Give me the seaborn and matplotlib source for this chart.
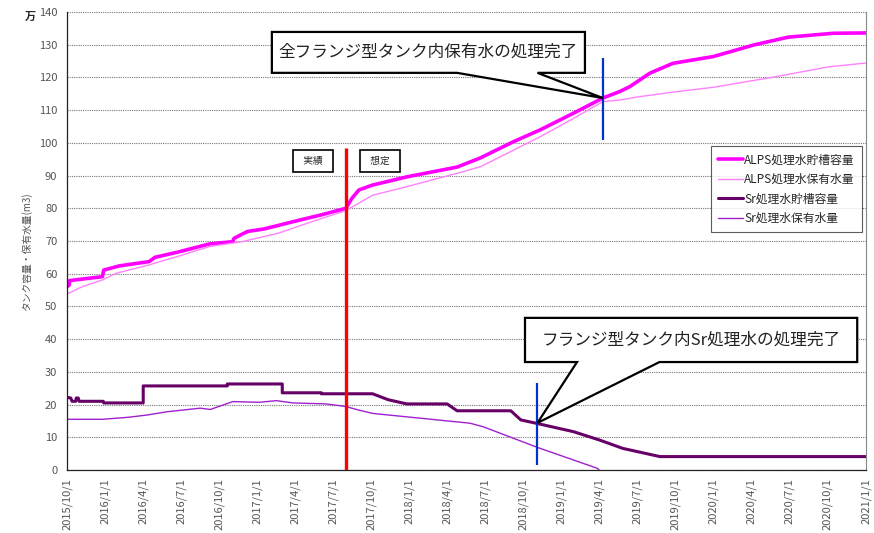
import matplotlib
matplotlib.use('Agg')
import matplotlib.pyplot as plt
import matplotlib.dates as mdates
from matplotlib.patches import Polygon
from matplotlib.ticker import MultipleLocator
import pandas as pd
import seaborn as sns

# ALPS処理水貯槽容量 (万m3)
alps_cap_dates = ['2015-10-01', '2015-10-06', '2015-10-07', '2015-12-25', '2015-12-28', '2016-02-04',
                  '2016-04-15', '2016-04-29', '2016-06-26', '2016-09-07', '2016-11-02', '2016-11-05',
                  '2016-12-07', '2017-01-17', '2017-03-27', '2017-06-03', '2017-08-01', '2017-08-15',
                  '2017-09-01', '2017-10-04', '2017-12-25', '2018-04-25', '2018-06-20', '2018-09-08',
                  '2018-11-11', '2019-01-30', '2019-04-10', '2019-05-21', '2019-06-14', '2019-08-01',
                  '2019-09-25', '2020-01-01', '2020-04-06', '2020-06-28', '2020-10-15', '2021-01-01']
alps_cap = [56.0, 56.5, 57.9, 59.1, 61.1, 62.4, 63.7, 65.0, 66.7, 69.1, 69.8, 70.8,
            72.9, 73.7, 75.9, 78.0, 80.0, 83.0, 85.6, 87.1, 89.6, 92.6, 95.4, 100.4,
            104.0, 109.1, 113.7, 115.7, 117.2, 121.3, 124.3, 126.4, 129.9, 132.3, 133.5, 133.6]

# ALPS処理水保有水量
alps_hold_dates = ['2015-10-01', '2015-11-06', '2015-12-25', '2016-01-26', '2016-04-15', '2016-06-26',
                   '2016-09-07', '2016-11-25', '2017-02-20', '2017-05-11', '2017-08-01', '2017-10-04',
                   '2017-12-25', '2018-04-25', '2018-06-20', '2018-09-08', '2018-11-11', '2019-01-30',
                   '2019-04-10', '2019-05-21', '2019-07-01', '2019-09-25', '2020-01-01', '2020-05-10',
                   '2020-07-01', '2020-10-01', '2021-01-01']
alps_hold = [53.8, 56.0, 58.1, 60.1, 62.7, 65.4, 68.3, 69.8, 72.4, 75.9, 79.3, 84.0,
             86.6, 90.7, 92.7, 97.8, 101.9, 107.5, 112.6, 113.1, 114.0, 115.5, 117.0, 119.8,
             121.0, 123.2, 124.4]

# Sr処理水貯槽容量
sr_cap_dates = ['2015-10-01', '2015-10-10', '2015-10-13', '2015-10-22', '2015-10-23', '2015-10-28',
                '2015-10-30', '2015-12-27', '2015-12-28', '2016-04-01', '2016-04-01', '2016-10-20',
                '2016-10-20', '2017-03-01', '2017-03-01', '2017-06-03', '2017-06-03', '2017-10-04',
                '2017-11-10', '2017-12-25', '2018-04-01', '2018-04-25', '2018-09-01', '2018-09-25',
                '2018-11-04', '2019-01-30', '2019-04-01', '2019-05-28', '2019-08-25', '2021-01-01']
sr_cap = [22.2, 22.0, 21.0, 21.0, 22.0, 22.0, 21.0, 21.0, 20.5, 20.5, 25.7, 25.7,
          26.3, 26.3, 23.6, 23.6, 23.3, 23.3, 21.5, 20.2, 20.2, 18.1, 18.1, 15.3,
          14.2, 11.7, 9.2, 6.6, 4.1, 4.1]

# Sr処理水保有水量
sr_hold_dates = ['2015-10-01', '2015-12-25', '2016-02-24', '2016-04-10', '2016-05-28', '2016-08-16',
                 '2016-09-09', '2016-11-02', '2017-01-05', '2017-02-15', '2017-03-27', '2017-06-14',
                 '2017-08-01', '2017-09-01', '2017-10-04', '2018-05-26', '2018-06-27', '2018-11-04',
                 '2019-03-28', '2019-04-01']
sr_hold = [15.5, 15.5, 16.1, 16.8, 17.8, 18.9, 18.5, 20.9, 20.7, 21.2, 20.5, 20.2,
           19.4, 18.3, 17.3, 14.3, 13.2, 6.9, 0.5, 0.0]

series_labels = ['ALPS処理水貯槽容量', 'ALPS処理水保有水量', 'Sr処理水貯槽容量', 'Sr処理水保有水量']
series_colors = ['#FF00FF', '#FF80FF', '#660066', '#A020D0']
series_widths = [2.6, 1.0, 2.2, 1.0]

# markers on the timeline
actual_end = '2017-08-01'          # 実績 / 想定 boundary
actual_end_top = 98.4
alps_done = '2019-04-10'
alps_done_y = 113.7
sr_done = '2018-11-04'
sr_done_y = 14.4

sns.set_style('white')
plt.rcParams['font.family'] = ['Noto Sans CJK JP', 'DejaVu Sans']

fig = plt.figure(figsize=(8.74, 5.33), dpi=100)
ax = fig.add_axes([0.0767, 0.1182, 0.9141, 0.8593])

all_series = [(alps_cap_dates, alps_cap), (alps_hold_dates, alps_hold),
              (sr_cap_dates, sr_cap), (sr_hold_dates, sr_hold)]
for (d, v), lab, col, lw in zip(all_series, series_labels, series_colors, series_widths):
    df = pd.DataFrame({'date': pd.to_datetime(d), 'value': v})
    sns.lineplot(data=df, x='date', y='value', ax=ax, color=col, linewidth=lw,
                 label=lab, estimator=None, sort=False)

ts = pd.Timestamp
ax.vlines(ts(actual_end), 0, actual_end_top, color='#FF0000', linewidth=2.4, zorder=5)
ax.vlines(ts(alps_done), 101, 126, color='#0033CC', linewidth=1.6, zorder=5)
ax.vlines(ts(sr_done), 1.5, 26.6, color='#0033CC', linewidth=1.6, zorder=5)

# axes
ax.set_xlim(ts('2015-10-01'), ts('2021-01-01'))
ax.set_ylim(0, 140)
ax.yaxis.set_major_locator(MultipleLocator(10))
ax.yaxis.set_minor_locator(MultipleLocator(2))
xticks = pd.date_range('2015-10-01', '2021-01-01', freq='QS')
ax.set_xticks(xticks)
ax.set_xticklabels([f'{t.year}/{t.month}/1' for t in xticks], rotation=90)
ax.tick_params(axis='x', direction='in', length=3, labelsize=8, labelcolor='#555555', pad=6)
ax.tick_params(axis='y', which='major', direction='in', length=4, labelsize=8,
               labelcolor='#555555', pad=7)
ax.tick_params(axis='y', which='minor', direction='in', length=2)
ax.grid(axis='y', which='major', color='#777777', linestyle=(0, (1, 1)), linewidth=0.8)
ax.set_xlabel('')
ax.set_ylabel('')
for s in ['left', 'bottom']:
    ax.spines[s].set_color('#222222')
    ax.spines[s].set_linewidth(0.9)
ax.spines['right'].set_color('#888888')
ax.spines['right'].set_linestyle((0, (1, 1)))
ax.spines['top'].set_visible(False)

fig.text(30 / 874, 1 - 16 / 533, '万', fontsize=8, fontweight='bold', ha='center', va='center')
fig.text(27 / 874, 0.527, 'タンク容量・保有水量(m3)', rotation=90, fontsize=7,
         color='#555555', ha='center', va='center')

leg = ax.legend(loc='upper right', bbox_to_anchor=(0.995, 0.707), borderaxespad=0,
                fontsize=8.5, frameon=True, fancybox=False, edgecolor='#333333',
                handlelength=2.1, handletextpad=0.1, labelspacing=0.55, borderpad=0.6)
leg.get_frame().set_linewidth(0.8)


def callout(x0, x1, y0, y1, b0, b1, tip, tip_y, text):
    X0, X1, B0, B1, T = [mdates.date2num(ts(v)) for v in (x0, x1, b0, b1, tip)]
    pts = [(X0, y1), (X1, y1), (X1, y0), (B1, y0), (T, tip_y), (B0, y0), (X0, y0)]
    ax.add_patch(Polygon(pts, closed=True, facecolor='white', edgecolor='black',
                         linewidth=1.6, zorder=6))
    ax.text((X0 + X1) / 2, (y0 + y1) / 2, text, fontsize=12, ha='center', va='center',
            color='#222222', zorder=7)


callout('2017-02-04', '2019-02-26', 121.4, 133.9, '2018-04-25', '2018-11-04',
        alps_done, alps_done_y, '全フランジ型タンク内保有水の処理完了')
callout('2018-10-05', '2020-12-11', 33.0, 46.5, '2019-02-07', '2019-08-24',
        sr_done, sr_done_y, 'フランジ型タンク内Sr処理水の処理完了')

for lab, d in [('実績', '2017-05-14'), ('想定', '2017-10-22')]:
    ax.text(ts(d), 94.5, f'  {lab}  ', fontsize=7, ha='center', va='center', zorder=7,
            bbox=dict(boxstyle='square,pad=0.6', facecolor='white', edgecolor='black',
                      linewidth=1.2))

fig.savefig('out.png', dpi=100)
